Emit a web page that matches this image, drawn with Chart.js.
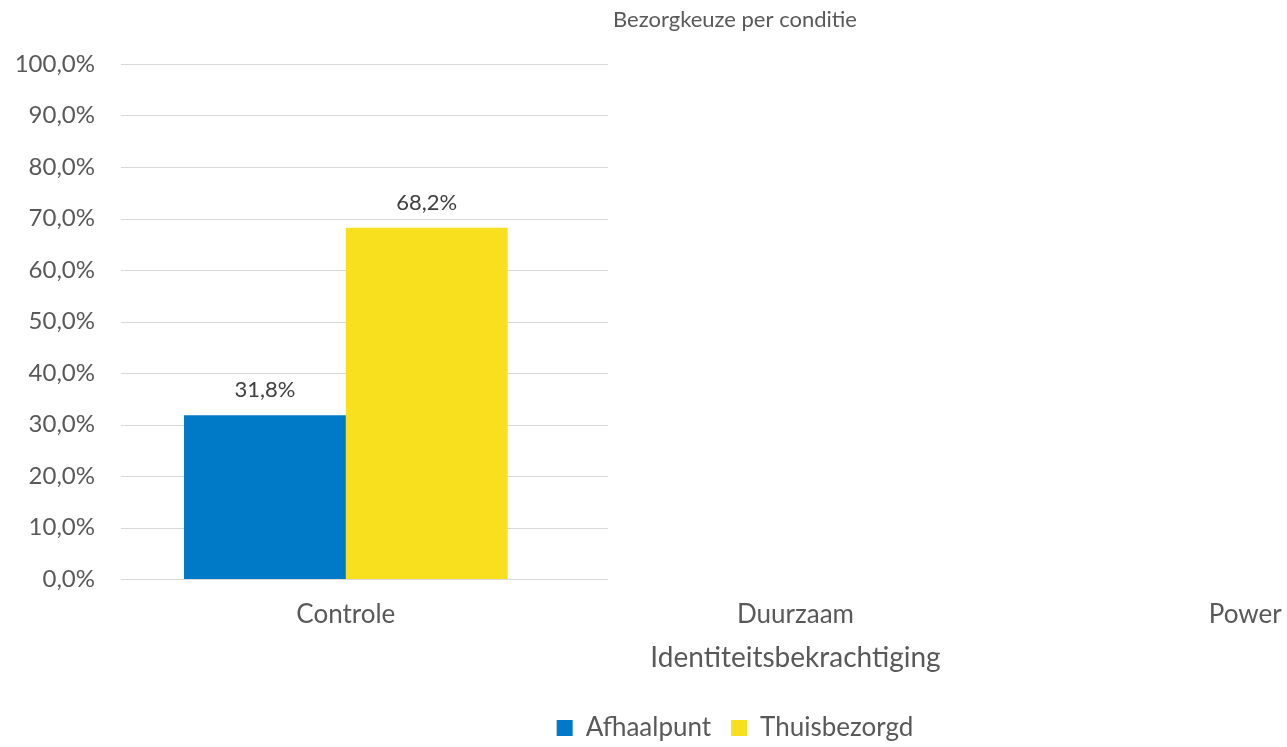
<!DOCTYPE html>
<html>
<head>
<meta charset="utf-8">
<script src="https://cdn.jsdelivr.net/npm/chart.js@4.4.1/dist/chart.umd.min.js"></script>
<style>
  html, body { margin: 0; padding: 0; background: #fff; overflow: hidden; }
  #wrap { width: 1287px; height: 747px; overflow: hidden; position: relative; }
  #wrap canvas { position: absolute; left: 0; top: 0; }
</style>
</head>
<body>
<div id="wrap"><canvas id="chart"></canvas></div>
<script>
// data
const categories = ['Controle', 'Duurzaam', 'Power'];
const afhaalpunt = [0.318, null, null];
const thuisbezorgd = [0.682, null, null];
const seriesNames = ['Afhaalpunt', 'Thuisbezorgd'];

const FONT = 'Lato, "Open Sans", sans-serif';
const TEXT = '#595959';
const blue = '#0079c6';
const yellow = '#f9e01e';
const GRID_RIGHT = 608; // gridlines in the original stop here

const pct = v => (v * 100).toFixed(1).replace('.', ',') + '%';

// y gridlines that only run part of the way across
const partialGrid = {
  id: 'partialGrid',
  beforeDatasetsDraw(chart) {
    const { ctx, chartArea, scales } = chart;
    ctx.save();
    ctx.strokeStyle = '#d9d9d9';
    ctx.lineWidth = 1;
    scales.y.ticks.forEach(t => {
      const py = Math.round(scales.y.getPixelForValue(t.value)) + 0.5;
      ctx.beginPath();
      ctx.moveTo(chartArea.left, py);
      ctx.lineTo(GRID_RIGHT, py);
      ctx.stroke();
    });
    ctx.restore();
  }
};

// value labels above bars
const barLabels = {
  id: 'barLabels',
  afterDatasetsDraw(chart) {
    const { ctx } = chart;
    ctx.save();
    ctx.font = '22px ' + FONT;
    ctx.fillStyle = '#404040';
    ctx.textAlign = 'center';
    ctx.textBaseline = 'alphabetic';
    chart.data.datasets.forEach((ds, i) => {
      chart.getDatasetMeta(i).data.forEach((el, j) => {
        const v = ds.data[j];
        if (v == null) return;
        ctx.fillText(pct(v), el.x, el.y - 18);
      });
    });
    ctx.restore();
  }
};

const canvas = document.getElementById('chart');
canvas.width = 1498;
canvas.height = 747;
canvas.style.width = '1498px';
canvas.style.height = '747px';

new Chart(canvas.getContext('2d'), {
  type: 'bar',
  data: {
    labels: categories,
    datasets: [
      { label: seriesNames[0], data: afhaalpunt, backgroundColor: blue, borderWidth: 0 },
      { label: seriesNames[1], data: thuisbezorgd, backgroundColor: yellow, borderWidth: 0 }
    ]
  },
  options: {
    responsive: false,
    animation: false,
    devicePixelRatio: 1,
    categoryPercentage: 0.72,
    barPercentage: 1,
    layout: { padding: { left: 0, right: 28, top: 0, bottom: -4 } },
    plugins: {
      title: {
        display: true,
        text: 'Bezorgkeuze per conditie',
        color: TEXT,
        font: { family: FONT, size: 22, weight: 'normal' },
        padding: { top: 7, bottom: 30.6 }
      },
      legend: {
        position: 'bottom',
        labels: {
          color: TEXT,
          font: { family: FONT, size: 26 },
          boxWidth: 16,
          boxHeight: 16,
          padding: 20
        }
      },
      tooltip: { enabled: false }
    },
    scales: {
      x: {
        grid: { display: false, drawTicks: false },
        border: { display: false },
        ticks: { color: TEXT, font: { family: FONT, size: 26 }, padding: 20 },
        title: {
          display: true,
          text: 'Identiteitsbekrachtiging',
          color: TEXT,
          font: { family: FONT, size: 28 },
          padding: { top: 0, bottom: 20 }
        },
        afterFit(scale) { scale.height = 116; }
      },
      y: {
        min: 0,
        max: 1,
        grid: { display: false, drawTicks: false },
        border: { display: false },
        ticks: {
          stepSize: 0.1,
          color: TEXT,
          font: { family: FONT, size: 24 },
          padding: 26,
          callback: v => pct(v)
        },
        afterFit(scale) { scale.width = 121; }
      }
    }
  },
  plugins: [partialGrid, barLabels]
});
</script>
</body>
</html>
